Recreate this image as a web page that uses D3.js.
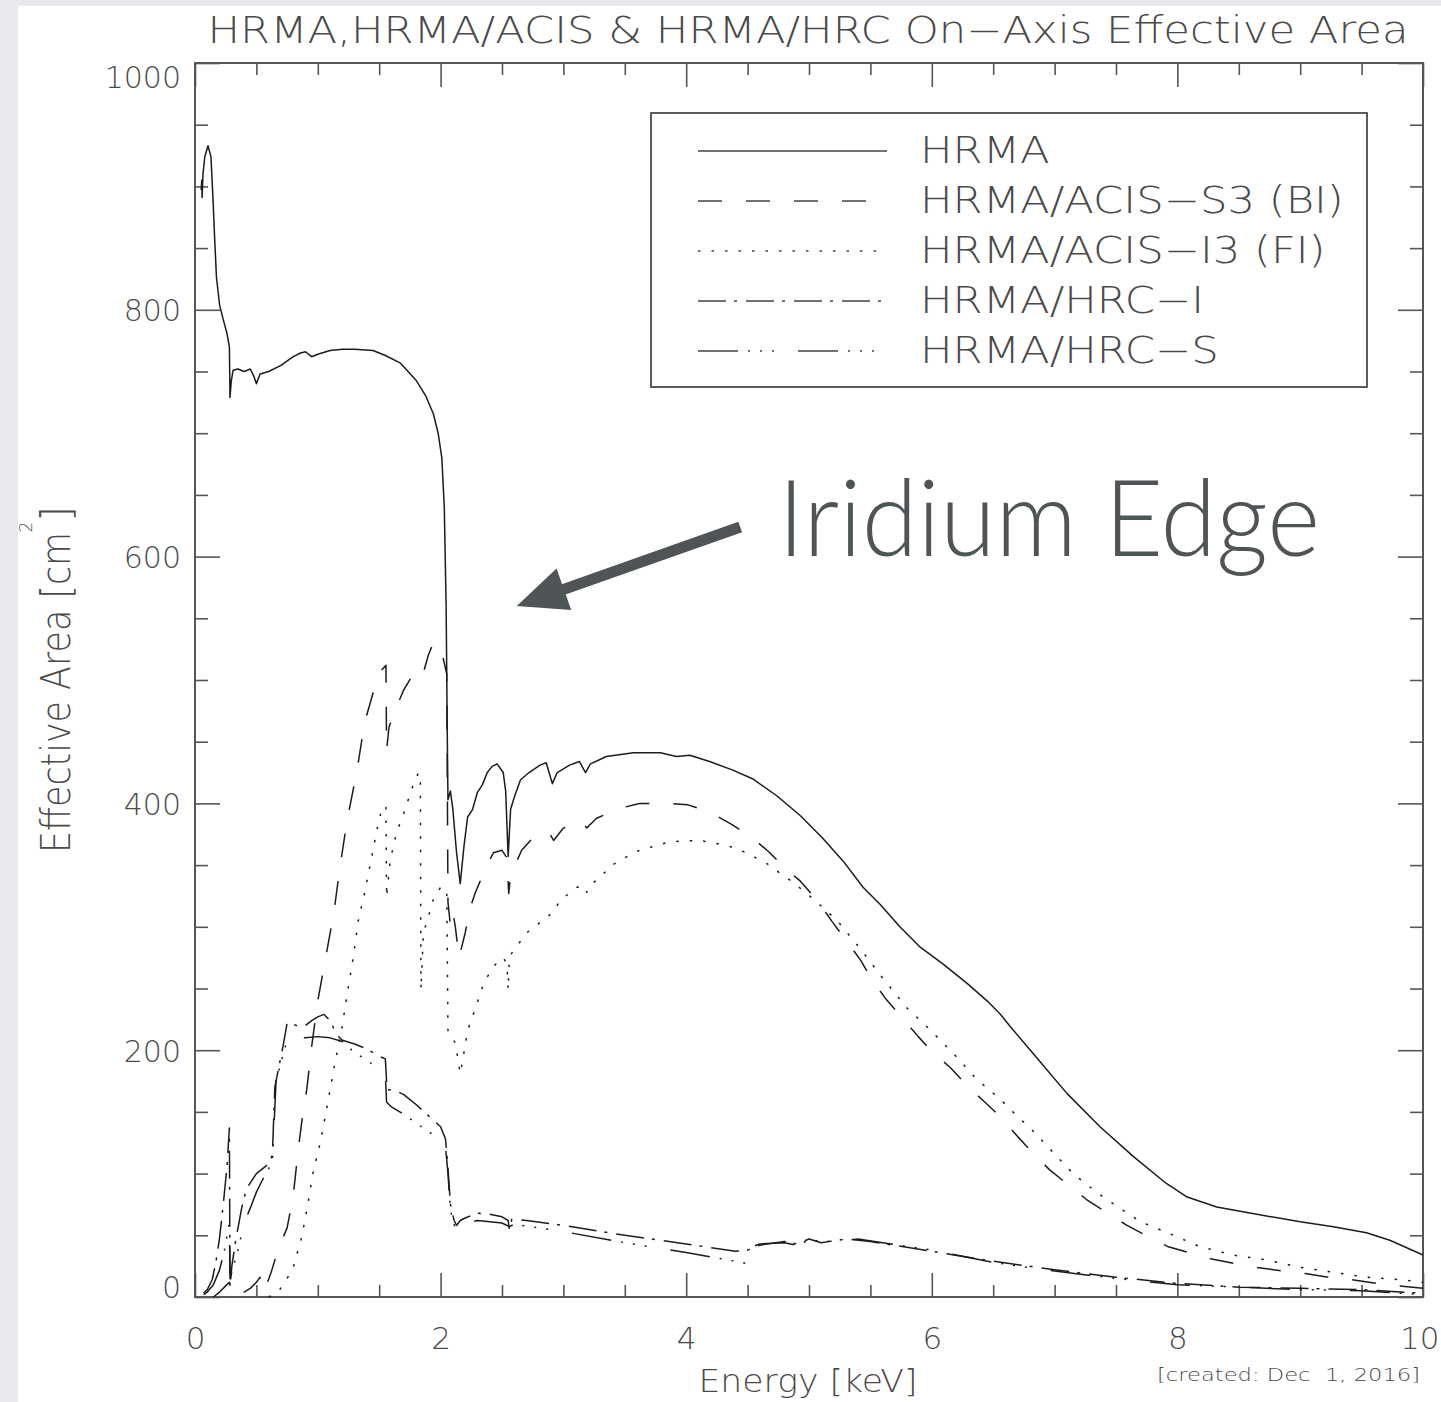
<!DOCTYPE html>
<html>
<head>
<meta charset="utf-8">
<script src="https://cdn.jsdelivr.net/npm/d3@7"></script>
<style>
html, body { margin: 0; padding: 0; background: #e7e9ec; }
svg { display: block; }
text { font-family: "DejaVu Sans", sans-serif; font-weight: 200; }
</style>
</head>
<body>
<svg id="chart" width="1441" height="1402"></svg>
<script>
// [energy keV, effective area cm^2]
const hrma = [[0.05,897],[0.055,905],[0.058,891],[0.065,910],[0.08,924],[0.106,933],[0.13,924],[0.147,889],[0.16,858],[0.175,826],[0.19,813],[0.2,804],[0.23,792],[0.26,781],[0.28,770],[0.285,729],[0.295,742],[0.31,751],[0.35,752],[0.4,750],[0.45,752],[0.48,746],[0.5,740],[0.53,748],[0.6,750],[0.7,755],[0.8,762],[0.86,765],[0.9,766],[0.95,762],[1.0,764],[1.1,767],[1.2,768],[1.3,768],[1.45,767],[1.55,763],[1.67,757],[1.8,743],[1.88,730],[1.94,716],[1.98,700],[2.01,680],[2.03,640],[2.045,560],[2.055,450],[2.06,403],[2.08,410],[2.1,395],[2.13,360],[2.16,335],[2.19,365],[2.22,389],[2.26,395],[2.3,409],[2.34,415],[2.38,425],[2.42,430],[2.46,432],[2.51,425],[2.53,410],[2.55,357],[2.57,395],[2.6,405],[2.65,419],[2.72,425],[2.81,431],[2.86,433],[2.91,416],[2.95,425],[3.05,431],[3.13,434],[3.18,425],[3.22,432],[3.35,438],[3.57,441],[3.79,441],[3.92,438],[4.03,439],[4.19,434],[4.38,427],[4.54,420],[4.74,406],[4.93,390],[5.11,372],[5.28,353],[5.44,332],[5.58,318],[5.74,300],[5.9,284],[6.09,270],[6.29,254],[6.45,240],[6.56,229],[6.64,219],[6.82,198],[7.1,165],[7.37,138],[7.64,114],[7.91,92],[8.08,81],[8.32,73],[8.59,68],[9.0,61],[9.27,57],[9.54,52],[9.73,46],[10.0,34]];

const acisS3 = [[0.15,0],[0.2,4],[0.25,9],[0.28,12],[0.285,2],[0.35,3],[0.4,4],[0.45,7],[0.5,12],[0.53,16],[0.535,5],[0.58,9],[0.62,20],[0.66,33],[0.7,44],[0.75,56],[0.8,82],[0.84,119],[0.88,150],[0.91,168],[0.95,203],[1.0,240],[1.06,273],[1.13,311],[1.18,348],[1.24,387],[1.32,427],[1.38,465],[1.48,500],[1.52,508],[1.555,512],[1.56,443],[1.58,462],[1.64,478],[1.7,492],[1.76,502],[1.81,510],[1.84,507],[1.86,506],[1.9,520],[1.94,530],[1.98,529],[2.02,518],[2.05,505],[2.06,320],[2.08,301],[2.1,312],[2.12,300],[2.15,275],[2.2,295],[2.24,315],[2.28,327],[2.36,346],[2.43,360],[2.5,362],[2.54,356],[2.555,327],[2.57,342],[2.66,362],[2.77,374],[2.88,377],[2.92,370],[3.0,380],[3.15,386],[3.19,380],[3.27,388],[3.46,396],[3.62,400],[3.84,400],[4.01,399],[4.19,393],[4.37,383],[4.54,372],[4.67,361],[4.82,346],[4.93,337],[5.07,321],[5.19,304],[5.31,288],[5.42,273],[5.52,256],[5.63,241],[5.77,225],[5.89,211],[6.01,198],[6.15,186],[6.29,171],[6.42,159],[6.56,146],[6.69,131],[6.82,117],[6.96,103],[7.11,91],[7.26,79],[7.43,68],[7.59,58],[7.76,49],[7.92,41],[8.09,36],[8.27,31],[8.47,27],[8.65,24],[8.86,21],[9.04,19],[9.23,16],[9.42,14],[9.63,11],[9.8,9],[10.0,7]];

const acisI3 = [[0.6,0],[0.65,2],[0.69,6],[0.75,15],[0.8,24],[0.87,49],[0.92,76],[0.96,100],[1.02,125],[1.06,146],[1.1,168],[1.14,190],[1.2,220],[1.24,246],[1.29,276],[1.33,305],[1.38,327],[1.44,357],[1.48,378],[1.52,395],[1.555,398],[1.56,324],[1.59,354],[1.64,376],[1.7,392],[1.77,413],[1.82,425],[1.835,420],[1.84,249],[1.86,295],[1.9,308],[1.94,322],[2.0,332],[2.05,330],[2.06,216],[2.09,210],[2.12,206],[2.16,181],[2.18,192],[2.22,216],[2.28,233],[2.35,254],[2.43,268],[2.51,275],[2.54,270],[2.55,249],[2.56,276],[2.7,295],[2.92,312],[2.97,321],[3.11,332],[3.17,333],[3.19,328],[3.22,334],[3.3,340],[3.38,349],[3.52,357],[3.62,362],[3.87,369],[4.11,370],[4.33,366],[4.49,360],[4.66,351],[4.87,336],[5.03,323],[5.23,305],[5.42,282],[5.58,261],[5.8,234],[5.96,219],[6.17,198],[6.36,177],[6.56,160],[6.66,150],[6.82,135],[6.99,117],[7.15,100],[7.34,85],[7.53,72],[7.7,61],[7.92,52],[8.18,41],[8.45,34],[8.73,30],[9.0,24],[9.27,20],[9.54,16],[9.81,14],[10.0,12]];

const hrcI = [[0.07,3],[0.1,6],[0.14,14],[0.17,28],[0.2,48],[0.23,75],[0.26,105],[0.28,137],[0.285,8],[0.3,25],[0.33,45],[0.38,72],[0.42,88],[0.5,100],[0.6,108],[0.63,115],[0.65,170],[0.68,185],[0.72,205],[0.75,222],[0.8,221],[0.85,219],[0.9,220],[0.95,224],[1.0,227],[1.05,229],[1.1,224],[1.15,213],[1.2,208],[1.3,205],[1.4,201],[1.5,195],[1.55,193],[1.56,175],[1.57,168],[1.62,168],[1.7,164],[1.8,156],[1.9,147],[2.0,138],[2.04,128],[2.06,105],[2.08,75],[2.11,62],[2.13,58],[2.16,62],[2.2,64],[2.3,68],[2.4,67],[2.5,65],[2.55,62],[2.56,55],[2.58,63],[2.7,62],[3.0,58],[3.5,50],[4.0,43],[4.4,37],[4.5,38],[4.6,42],[4.8,45],[4.9,43],[5.0,47],[5.1,44],[5.3,47],[5.5,45],[6.0,37],[6.5,29],[7.0,22],[7.5,16],[8.0,11],[8.5,8],[9.0,7],[9.5,6],[10.0,3]];

const hrcS = [[0.07,2],[0.1,4],[0.15,10],[0.2,22],[0.24,38],[0.27,55],[0.28,60],[0.285,15],[0.3,20],[0.35,38],[0.4,60],[0.45,72],[0.5,85],[0.55,95],[0.6,104],[0.63,110],[0.66,175],[0.7,190],[0.75,208],[0.8,212],[0.9,210],[1.0,211],[1.1,210],[1.2,207],[1.3,198],[1.4,192],[1.5,184],[1.55,180],[1.56,158],[1.6,154],[1.7,148],[1.8,141],[1.9,134],[2.0,128],[2.04,122],[2.06,100],[2.08,70],[2.12,55],[2.15,58],[2.2,60],[2.3,62],[2.5,60],[2.56,57],[2.6,59],[3.0,53],[3.5,44],[4.0,36],[4.4,29],[4.5,27],[4.52,40],[4.6,43],[4.8,44],[4.9,42],[5.0,46],[5.2,45],[5.4,47],[5.6,44],[6.0,38],[6.5,28],[7.0,21],[7.5,15],[8.0,10],[8.5,8],[9.0,6],[9.5,5],[10.0,2]];

const seriesNames = ["HRMA", "HRMA/ACIS\u2212S3 (BI)", "HRMA/ACIS\u2212I3 (FI)", "HRMA/HRC\u2212I", "HRMA/HRC\u2212S"];
const seriesData = [hrma, acisS3, acisI3, hrcI, hrcS];
const dashes = [null, "24,24", "2.5,11", "28,8,3,9", "40,10,2,10,2,10,2,24"];

const xMajor = [0, 2, 4, 6, 8, 10];
const xMinor = d3.range(0, 10.01, 0.5).filter(v => v % 2 !== 0);
const yMajor = [0, 200, 400, 600, 800, 1000];
const yMinor = d3.range(0, 1001, 50).filter(v => v % 200 !== 0);

const svg = d3.select("#chart");
svg.append("rect").attr("width", 1441).attr("height", 1402).attr("fill", "#e7e9ec");
svg.append("rect").attr("x", 18).attr("y", 6).attr("width", 1423).attr("height", 1396).attr("fill", "#fff");

const x = d3.scaleLinear().domain([0, 10]).range([195, 1423]);
const y = d3.scaleLinear().domain([0, 1000]).range([1297, 63]);

const axisCol = "#555";
const textCol = "#4a4a4a";

function styleAxis(g) {
    g.select(".domain").remove();
    g.selectAll("line").attr("stroke", axisCol).attr("stroke-width", 1.6);
    g.selectAll("text").attr("fill", textCol).style("font-size", "31px").style("font-family", null);
}

// ticks on all four sides, pointing inward
const xAxis = svg.append("g").attr("transform", "translate(0,1297)")
    .call(d3.axisBottom(x).tickValues(xMajor).tickSizeInner(-24).tickSizeOuter(0).tickPadding(30).tickFormat(d3.format("d")))
    .call(styleAxis);
// keep the last label inside the picture
xAxis.selectAll("text").filter(d => d === 10).attr("text-anchor", "end").attr("x", 16);
svg.append("g").attr("transform", "translate(0,1297)")
    .call(d3.axisBottom(x).tickValues(xMinor).tickSizeInner(-12).tickSizeOuter(0).tickFormat(""))
    .call(styleAxis);
svg.append("g").attr("transform", "translate(0,63)")
    .call(d3.axisTop(x).tickValues(xMajor).tickSizeInner(-24).tickSizeOuter(0).tickFormat(""))
    .call(styleAxis);
svg.append("g").attr("transform", "translate(0,63)")
    .call(d3.axisTop(x).tickValues(xMinor).tickSizeInner(-12).tickSizeOuter(0).tickFormat(""))
    .call(styleAxis);

const yAxis = svg.append("g").attr("transform", "translate(195,0)")
    .call(d3.axisLeft(y).tickValues(yMajor).tickSizeInner(-25).tickSizeOuter(0).tickPadding(14).tickFormat(d3.format("d")))
    .call(styleAxis);
yAxis.selectAll("text").style("font-size", "30px")
    .attr("dy", d => d === 1000 ? "0.8em" : d === 0 ? "0" : "0.36em");
svg.append("g").attr("transform", "translate(195,0)")
    .call(d3.axisLeft(y).tickValues(yMinor).tickSizeInner(-13).tickSizeOuter(0).tickFormat(""))
    .call(styleAxis);
svg.append("g").attr("transform", "translate(1423,0)")
    .call(d3.axisRight(y).tickValues(yMajor).tickSizeInner(-25).tickSizeOuter(0).tickFormat(""))
    .call(styleAxis);
svg.append("g").attr("transform", "translate(1423,0)")
    .call(d3.axisRight(y).tickValues(yMinor).tickSizeInner(-13).tickSizeOuter(0).tickFormat(""))
    .call(styleAxis);

svg.append("rect")
    .attr("x", x(0)).attr("y", y(1000))
    .attr("width", x(10) - x(0)).attr("height", y(0) - y(1000))
    .attr("fill", "none").attr("stroke", axisCol).attr("stroke-width", 2);

// curves
const line = d3.line().x(d => x(d[0])).y(d => y(d[1]));
svg.append("g").selectAll("path")
    .data(seriesData)
    .join("path")
    .attr("d", line)
    .attr("fill", "none")
    .attr("stroke", "#1c1c1c")
    .attr("stroke-width", 1.5)
    .attr("stroke-linejoin", "round")
    .attr("stroke-dasharray", (d, i) => dashes[i]);

// legend
const legend = svg.append("g");
legend.append("rect")
    .attr("x", 651).attr("y", 113).attr("width", 716).attr("height", 274)
    .attr("fill", "#fff").attr("stroke", "#333").attr("stroke-width", 1.6);
seriesNames.forEach((name, i) => {
    const yy = 151 + i * 50;
    legend.append("line")
        .attr("x1", 698).attr("x2", 887).attr("y1", yy).attr("y2", yy)
        .attr("stroke", "#444").attr("stroke-width", 1.5)
        .attr("stroke-dasharray", dashes[i]);
    legend.append("text")
        .attr("class", "hershey")
        .attr("x", 920).attr("y", yy + 12)
        .attr("fill", textCol)
        .style("font-size", "37px")
        .text(name);
});

// titles
const title = svg.append("text")
    .attr("x", 808).attr("y", 43)
    .attr("text-anchor", "middle")
    .attr("fill", textCol)
    .style("font-size", "37px")
    .text("HRMA,HRMA/ACIS & HRMA/HRC On\u2212Axis Effective Area");

svg.append("text")
    .attr("x", 808).attr("y", 1392)
    .attr("text-anchor", "middle")
    .attr("fill", textCol)
    .style("font-size", "32px")
    .attr("textLength", 219).attr("lengthAdjust", "spacingAndGlyphs")
    .text("Energy [keV]");

svg.append("text")
    .attr("x", 1157).attr("y", 1381)
    .attr("fill", textCol)
    .style("font-size", "18px")
    .style("white-space", "pre")
    .attr("textLength", 263).attr("lengthAdjust", "spacingAndGlyphs")
    .text("[created: Dec  1, 2016]");

svg.append("text")
    .attr("transform", "translate(70,853) rotate(-90)")
    .attr("fill", textCol)
    .style("font-size", "41px")
    .attr("textLength", 321).attr("lengthAdjust", "spacingAndGlyphs")
    .text("Effective Area [cm");
svg.append("text")
    .attr("transform", "translate(32,527) rotate(-90)")
    .attr("text-anchor", "middle")
    .attr("fill", textCol)
    .style("font-size", "17px")
    .text("2");
svg.append("text")
    .attr("transform", "translate(70,522) rotate(-90)")
    .attr("fill", textCol)
    .style("font-size", "41px")
    .text("]");

// stretch the plot-font texts horizontally like the original
const natural = title.node().getComputedTextLength();
const k = 1201 / natural;
title.attr("textLength", 1201).attr("lengthAdjust", "spacingAndGlyphs");
legend.selectAll("text.hershey").each(function () {
    const w = this.getComputedTextLength();
    d3.select(this).attr("textLength", w * k).attr("lengthAdjust", "spacingAndGlyphs");
});

// annotation
const annCol = "#4f5457";
const tip = [2.62, 560], tail = [4.44, 624];
const tx = x(tip[0]), ty = y(tip[1]), sx = x(tail[0]), sy = y(tail[1]);
const len = Math.hypot(sx - tx, sy - ty);
const ux = (tx - sx) / len, uy = (ty - sy) / len;
const headLen = 50, headHalf = 22;
const bx = tx - ux * headLen, by = ty - uy * headLen;
svg.append("line")
    .attr("x1", sx).attr("y1", sy).attr("x2", bx + ux * 4).attr("y2", by + uy * 4)
    .attr("stroke", annCol).attr("stroke-width", 11);
svg.append("polygon")
    .attr("points", [[tx, ty], [bx - uy * headHalf, by + ux * headHalf], [bx + uy * headHalf, by - ux * headHalf]].map(p => p.join(",")).join(" "))
    .attr("fill", annCol);
svg.append("text")
    .attr("x", 778).attr("y", 556)
    .attr("fill", annCol)
    .style("font-family", "Lato, 'Open Sans', sans-serif")
    .style("font-weight", 300)
    .style("font-size", "106px")
    .attr("textLength", 542).attr("lengthAdjust", "spacingAndGlyphs")
    .text("Iridium Edge");
</script>
</body>
</html>
